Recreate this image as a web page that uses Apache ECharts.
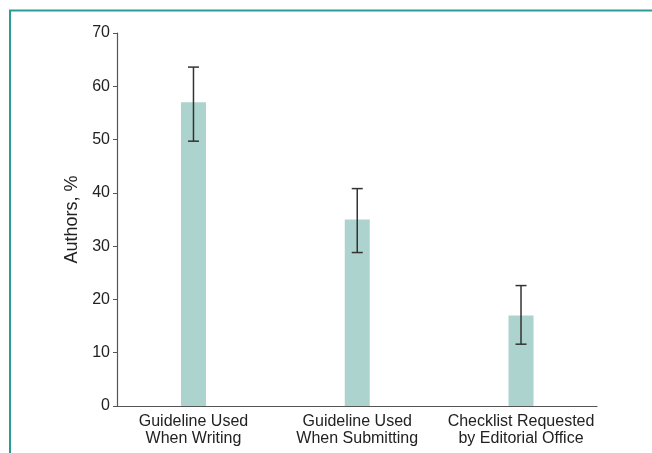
<!DOCTYPE html>
<html>
<head>
<meta charset="utf-8">
<script src="https://cdn.jsdelivr.net/npm/echarts@6/dist/echarts.min.js"></script>
<style>
  html, body { margin: 0; padding: 0; background: #fff; }
  #chart { width: 652px; height: 453px; }
</style>
</head>
<body>
<div id="chart"></div>
<script>
const categories = ['Guideline Used\nWhen Writing', 'Guideline Used\nWhen Submitting', 'Checklist Requested\nby Editorial Office']
const positions = [1, 2, 3]
const values = [57, 35, 17]
const errLow = [49.7, 28.8, 11.6]
const errHigh = [63.6, 40.8, 22.6]
const yTicks = [0, 10, 20, 30, 40, 50, 60, 70]

const chart = echarts.init(document.getElementById('chart'))

const barData = positions.map((p, i) => [p, values[i]])
const errData = positions.map((p, i) => [p, errLow[i], errHigh[i]])

chart.setOption({
  animation: false,
  textStyle: { fontFamily: 'Liberation Sans, Arial, sans-serif' },
  graphic: [
    {
      type: 'polyline',
      shape: { points: [[10, 453], [10, 10.5], [652, 10.5]] },
      style: { stroke: '#2b9c95', lineWidth: 2, fill: null },
      silent: true
    }
  ],
  grid: { left: 117, right: 55, top: 33, bottom: 47 },
  xAxis: {
    type: 'value',
    min: 0.533,
    max: 3.464,
    axisLine: { show: true, lineStyle: { color: '#555', width: 1.2 } },
    axisTick: { show: false },
    splitLine: { show: false },
    axisLabel: {
      customValues: positions,
      formatter: (v) => categories[positions.indexOf(v)],
      color: '#222',
      fontSize: 16,
      lineHeight: 17,
      margin: 7
    }
  },
  yAxis: {
    type: 'value',
    min: yTicks[0],
    max: yTicks[yTicks.length - 1],
    interval: 10,
    name: 'Authors, %',
    nameLocation: 'middle',
    nameGap: 33,
    nameTextStyle: { color: '#222', fontSize: 18 },
    axisLine: { show: true, lineStyle: { color: '#555', width: 1.2 } },
    axisTick: { show: true, length: 4, lineStyle: { color: '#555' } },
    splitLine: { show: false },
    axisLabel: { color: '#222', fontSize: 16, margin: 7 }
  },
  series: [
    {
      type: 'bar',
      data: barData,
      barWidth: 25,
      itemStyle: { color: '#acd3ce' }
    },
    {
      type: 'custom',
      data: errData,
      z: 10,
      renderItem: function (params, api) {
        const x = api.value(0)
        const lo = api.coord([x, api.value(1)])
        const hi = api.coord([x, api.value(2)])
        const hw = 5.5
        const style = { stroke: '#333', lineWidth: 1.5 }
        return {
          type: 'group',
          children: [
            { type: 'line', shape: { x1: lo[0], y1: lo[1], x2: hi[0], y2: hi[1] }, style: style },
            { type: 'line', shape: { x1: lo[0] - hw, y1: lo[1], x2: lo[0] + hw, y2: lo[1] }, style: style },
            { type: 'line', shape: { x1: hi[0] - hw, y1: hi[1], x2: hi[0] + hw, y2: hi[1] }, style: style }
          ]
        }
      }
    }
  ]
})
</script>
</body>
</html>
